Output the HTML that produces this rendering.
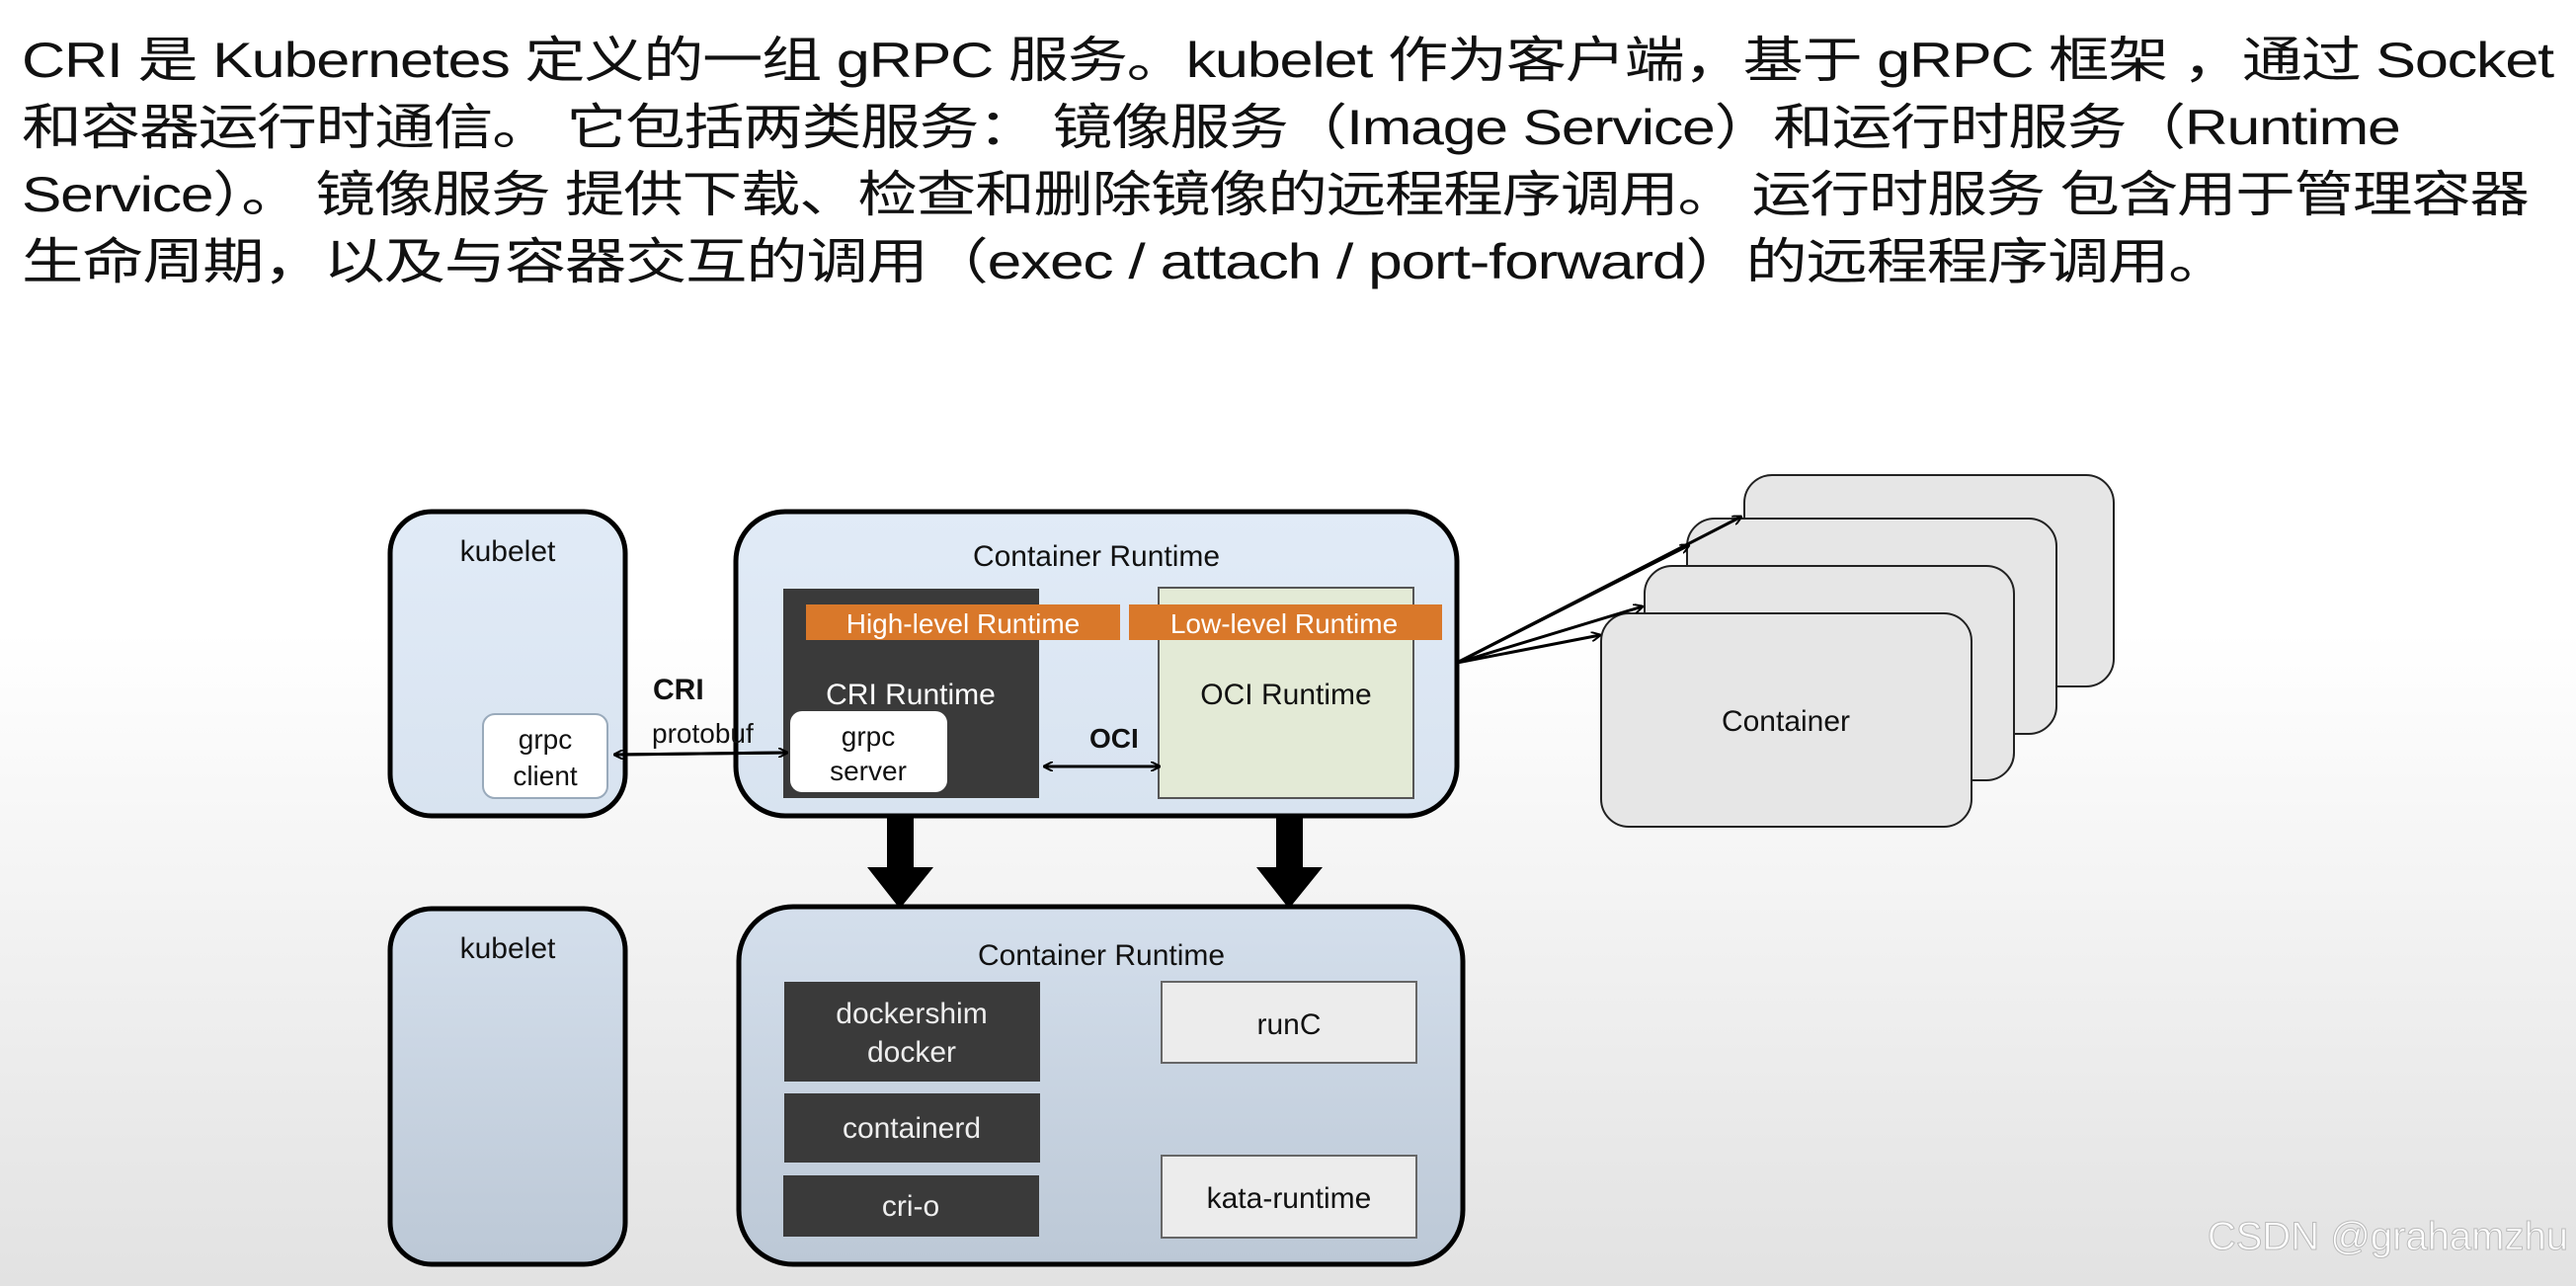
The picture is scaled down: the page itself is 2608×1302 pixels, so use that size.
<!DOCTYPE html>
<html><head><meta charset="utf-8"><style>
html,body{margin:0;padding:0}
body{width:2608px;height:1302px;overflow:hidden;position:relative;background:linear-gradient(#fff 0px,#fff 640px,#e2e2e2 1302px);font-family:"Liberation Sans","Noto Sans CJK SC",sans-serif}
.t{position:absolute;left:22px;font-size:50px;color:#111;white-space:nowrap;line-height:66px;letter-spacing:-1px;transform-origin:0 0}
svg{position:absolute;left:0;top:0}
</style></head><body>
<div class="t" style="top:28px;transform:scaleX(1.223)">CRI 是 Kubernetes 定义的一组 gRPC 服务。kubelet 作为客户端，基于 gRPC 框架 ，通过 Socket</div>
<div class="t" style="top:96px;transform:scaleX(1.215)">和容器运行时通信。 它包括两类服务： 镜像服务（Image Service）和运行时服务（Runtime</div>
<div class="t" style="top:164px;transform:scaleX(1.21)">Service）。 镜像服务 提供下载、检查和删除镜像的远程程序调用。 运行时服务 包含用于管理容器</div>
<div class="t" style="top:232px;transform:scaleX(1.247)">生命周期，以及与容器交互的调用（exec / attach / port-forward）的远程程序调用。</div>
<svg width="2608" height="1302" font-family="Liberation Sans, sans-serif">
<defs>
<linearGradient id="bg1" x1="0" y1="0" x2="0" y2="1"><stop offset="0" stop-color="#e1ebf7"/><stop offset="1" stop-color="#d8e3f0"/></linearGradient>
<linearGradient id="bg2" x1="0" y1="0" x2="0" y2="1"><stop offset="0" stop-color="#d4dfec"/><stop offset="1" stop-color="#bcc8d6"/></linearGradient>
<marker id="ah" markerWidth="10" markerHeight="10" refX="9" refY="5" orient="auto" markerUnits="userSpaceOnUse"><path d="M0,0 L10,5 L0,10" fill="none" stroke="#000" stroke-width="2"/></marker>
</defs>
<g stroke="#222" stroke-width="2" fill="#e6e6e6">
<rect x="1766" y="481" width="374" height="214" rx="28"/>
<rect x="1708" y="525" width="374" height="218" rx="28"/>
<rect x="1665" y="573" width="374" height="217" rx="28"/>
<rect x="1621" y="621" width="375" height="216" rx="28"/>
</g>
<text x="1808" y="740" font-size="30" text-anchor="middle" fill="#111">Container</text>
<g stroke="#000" stroke-width="3" marker-end="url(#ah)">
<line x1="1475" y1="671" x2="1763" y2="523"/>
<line x1="1475" y1="671" x2="1710" y2="552"/>
<line x1="1475" y1="671" x2="1663" y2="614"/>
<line x1="1475" y1="671" x2="1620" y2="643"/>
</g>
<rect x="395" y="518" width="238" height="308" rx="42" fill="url(#bg1)" stroke="#000" stroke-width="5"/>
<text x="514" y="568" font-size="30" text-anchor="middle" fill="#111">kubelet</text>
<rect x="745" y="518" width="730" height="308" rx="50" fill="url(#bg1)" stroke="#000" stroke-width="5"/>
<text x="1110" y="573" font-size="30" text-anchor="middle" fill="#111">Container Runtime</text>
<rect x="793" y="596" width="259" height="212" fill="#3a3a3a"/>
<rect x="1173" y="595" width="258" height="213" fill="#e3ead6" stroke="#555" stroke-width="2"/>
<rect x="816" y="612" width="318" height="36" fill="#d9782a"/>
<rect x="1143" y="612" width="317" height="36" fill="#d9782a"/>
<text x="975" y="641" font-size="28" text-anchor="middle" fill="#fff">High-level Runtime</text>
<text x="1300" y="641" font-size="28" text-anchor="middle" fill="#fff">Low-level Runtime</text>
<text x="922" y="713" font-size="30" text-anchor="middle" fill="#fff">CRI Runtime</text>
<text x="1302" y="713" font-size="30" text-anchor="middle" fill="#111">OCI Runtime</text>
<rect x="489" y="723" width="126" height="85" rx="12" fill="#fff" stroke="#9ab" stroke-width="2"/>
<text x="552" y="758" font-size="28" text-anchor="middle" fill="#111">grpc</text>
<text x="552" y="795" font-size="28" text-anchor="middle" fill="#111">client</text>
<rect x="800" y="720" width="159" height="82" rx="12" fill="#fff"/>
<text x="879" y="755" font-size="28" text-anchor="middle" fill="#111">grpc</text>
<text x="879" y="790" font-size="28" text-anchor="middle" fill="#111">server</text>
<text x="661" y="708" font-size="30" font-weight="bold" fill="#111">CRI</text>
<text x="660" y="752" font-size="28" fill="#111">protobuf</text>
<text x="1103" y="757" font-size="28" font-weight="bold" fill="#111">OCI</text>
<g stroke="#000" stroke-width="3">
<line x1="622" y1="764" x2="797" y2="762" marker-end="url(#ah)"/>
<line x1="797" y1="762" x2="622" y2="764" marker-end="url(#ah)"/>
<line x1="1057" y1="776" x2="1174" y2="776" marker-end="url(#ah)"/>
<line x1="1174" y1="776" x2="1057" y2="776" marker-end="url(#ah)"/>
</g>
<g fill="#000">
<rect x="898" y="826" width="27" height="54"/><polygon points="878,878 945,878 911,920"/>
<rect x="1292" y="826" width="27" height="54"/><polygon points="1272,878 1339,878 1305,920"/>
</g>
<rect x="395" y="920" width="238" height="360" rx="42" fill="url(#bg2)" stroke="#000" stroke-width="5"/>
<text x="514" y="970" font-size="30" text-anchor="middle" fill="#111">kubelet</text>
<rect x="748" y="918" width="733" height="362" rx="55" fill="url(#bg2)" stroke="#000" stroke-width="5"/>
<text x="1115" y="977" font-size="30" text-anchor="middle" fill="#111">Container Runtime</text>
<rect x="794" y="994" width="259" height="101" fill="#3a3a3a"/>
<text x="923" y="1036" font-size="30" text-anchor="middle" fill="#eee">dockershim</text>
<text x="923" y="1075" font-size="30" text-anchor="middle" fill="#eee">docker</text>
<rect x="794" y="1107" width="259" height="70" fill="#3a3a3a"/>
<text x="923" y="1152" font-size="30" text-anchor="middle" fill="#eee">containerd</text>
<rect x="793" y="1190" width="259" height="62" fill="#3a3a3a"/>
<text x="922" y="1231" font-size="30" text-anchor="middle" fill="#eee">cri-o</text>
<rect x="1176" y="994" width="258" height="82" fill="#ececec" stroke="#666" stroke-width="2"/>
<text x="1305" y="1047" font-size="30" text-anchor="middle" fill="#111">runC</text>
<rect x="1176" y="1170" width="258" height="83" fill="#ececec" stroke="#666" stroke-width="2"/>
<text x="1305" y="1223" font-size="30" text-anchor="middle" fill="#111">kata-runtime</text>
<text x="2600" y="1265" font-size="40" text-anchor="end" fill="#fff" stroke="#bbb" stroke-width="1">CSDN @grahamzhu</text>
</svg>
</body></html>
